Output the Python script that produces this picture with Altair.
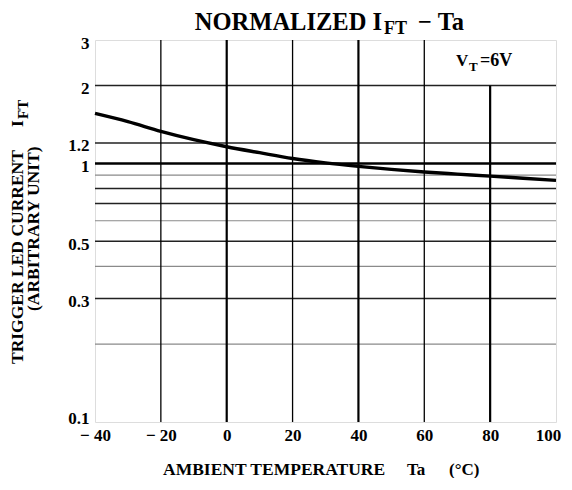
import altair as alt
import pandas as pd

# ---- data ----
temps = [-40, -30, -20, -10, 0, 10, 20, 30, 40, 50, 60, 70, 80, 90, 100]
ift = [1.56, 1.45, 1.33, 1.235, 1.16, 1.10, 1.045, 1.005, 0.974, 0.948, 0.926, 0.909, 0.893, 0.876, 0.86]

x_ticks = [-40, -20, 0, 20, 40, 60, 80, 100]
y_ticks = [0.1, 0.3, 0.5, 1, 1.2, 2, 3]

hgrid_light = [0.2, 0.4, 0.6, 0.9]
hgrid_dark = [0.3, 0.5, 0.7, 0.8, 1.2, 2]
hgrid_main = [1]
vgrid_minor = [-20, 20, 60]
vgrid_major = [0, 40]
vgrid_short = [80]   # stops at 2 (box for V_T label)

W, H = 461, 382
OX, OY = 95, 40  # plot origin on page
FONT = "Liberation Serif"

curve = pd.DataFrame({"Ta": temps, "IFT": ift})

xs = alt.Scale(domain=[-40, 100], nice=False, zero=False)
ys = alt.Scale(type="log", domain=[0.1, 3], nice=False)

base = alt.Chart(curve)

def hrule(vals, color, width):
    return alt.Chart(pd.DataFrame({"v": vals})).mark_rule(color=color, strokeWidth=width).encode(
        y=alt.Y("v:Q", scale=ys))

def vrule(vals, width, top=None):
    ch = alt.Chart(pd.DataFrame({"v": vals})).mark_rule(color="black", strokeWidth=width)
    if top is None:
        return ch.encode(x=alt.X("v:Q", scale=xs))
    return ch.encode(x=alt.X("v:Q", scale=xs), y=alt.datum(0.1, scale=ys), y2=alt.datum(top))

one = pd.DataFrame({"a": [0]})

def txt(text, px, py, size, align="left", angle=0, baseline="alphabetic"):
    kw = dict(text=text, font=FONT, fontWeight="bold", fontSize=size, align=align,
              baseline=baseline, color="black")
    if angle:
        kw["angle"] = angle
    return alt.Chart(one).mark_text(**kw).encode(x=alt.value(px - OX), y=alt.value(py - OY))

axes_layer = base.mark_line(opacity=0).encode(
    x=alt.X("Ta:Q", scale=xs,
            axis=alt.Axis(values=x_ticks, title=None, domain=False, ticks=False, grid=False,
                          labelFont=FONT, labelFontWeight="bold", labelFontSize=17,
                          labelColor="black", labelPadding=5, labelFlush=False,
                          labelOffset=alt.condition("datum.value == 100", alt.value(-8), alt.value(0)),
                          labelExpr="datum.value < 0 ? '\u2212 ' + (-datum.value) : '' + datum.value")),
    y=alt.Y("IFT:Q", scale=ys,
            axis=alt.Axis(values=y_ticks, title=None, domain=False, ticks=False, grid=False,
                          labelFont=FONT, labelFontWeight="bold", labelFontSize=17,
                          labelColor="black", labelPadding=6, labelFlush=False,
                          labelBaseline="middle",
                          labelOffset=alt.condition("datum.value == 0.1", alt.value(-4), alt.value(3)),
                          labelExpr="'' + datum.value")),
)

line = base.mark_line(color="black", strokeWidth=3.4, interpolate="monotone").encode(
    x=alt.X("Ta:Q", scale=xs), y=alt.Y("IFT:Q", scale=ys))

layers = [
    axes_layer,
    hrule(hgrid_light, "#8a8a8a", 1.2),
    hrule(hgrid_dark, "#222222", 1.5),
    hrule(hgrid_main, "black", 2.5),
    vrule(vgrid_minor, 1.3),
    vrule(vgrid_major, 2.2),
    vrule(vgrid_short, 2.2, top=2),
    line,
    # title
    txt("NORMALIZED I", 382, 29.5, 24.5, align="right"),
    txt("FT", 384, 34, 18),
    txt("\u2212 Ta", 418, 29.5, 24.5),
    # V_T label
    txt("V", 456, 66, 17),
    txt("T", 469, 71, 13),
    txt("=6V", 480, 66, 18),
    # x title
    txt("AMBIENT TEMPERATURE", 163, 475, 17.5),
    txt("Ta", 407, 475, 17),
    txt("(\u00b0C)", 449, 475, 17),
    # y title
    txt("TRIGGER LED CURRENT", 18, 364, 17.5, angle=270, baseline="middle"),
    txt("I", 18, 127, 17.5, angle=270, baseline="middle"),
    txt("FT", 23, 119, 15, angle=270, baseline="middle"),
    txt("(ARBITRARY UNIT)", 34, 311, 17.5, angle=270, baseline="middle"),
]

chart = alt.layer(*layers).properties(
    width=W, height=H,
    autosize=alt.AutoSizeParams(type="none"),
    padding={"left": OX - 8, "top": OY - 8, "right": 8, "bottom": 56},
).configure_view(stroke="black", strokeWidth=2.6).configure(background="white")

chart.save("out.html", embed_options={"renderer": "svg", "actions": False})
